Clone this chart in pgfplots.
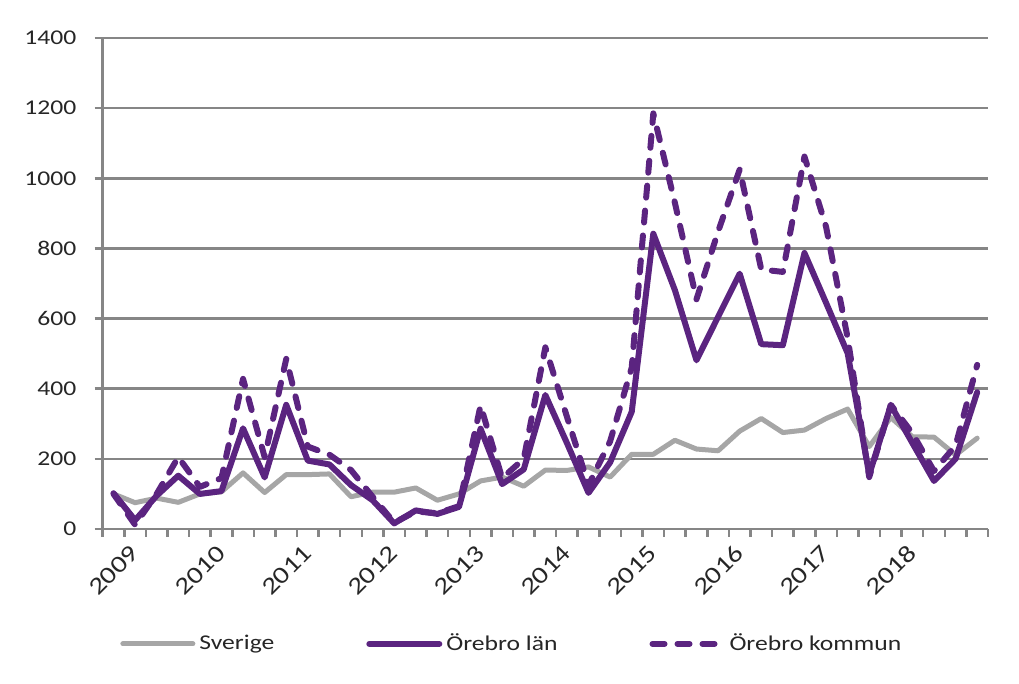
\documentclass[border=0pt]{standalone}
\usepackage{fontspec}
\setmainfont{Carlito}[FakeStretch=1.22]
\usepackage{pgfplots}
\usepackage{pgfplotstable}
\pgfplotsset{compat=1.18}
\definecolor{lila}{RGB}{91,36,128}
\definecolor{grline}{RGB}{166,166,166}
\definecolor{gridc}{RGB}{134,134,134}
\definecolor{txt}{RGB}{38,38,38}

\pgfplotstableread{
x S L K
0 100 102 100
1 75 25 12
2 88 95 100
3 76 152 205
4 100 100 120
5 106 108 145
6 160 287 428
7 104 147 205
8 155 354 485
9 155 195 235
10 157 184 212
11 92 125 168
12 105 82 92
13 105 16 18
14 117 53 50
15 82 43 45
16 100 63 65
17 137 286 352
18 148 128 145
19 122 170 200
20 168 382 518
21 167 245 320
22 177 103 125
23 148 190 250
24 213 334 460
25 213 842 1185
26 253 681 930
27 228 481 655
28 223 605 848
29 279 728 1025
30 315 527 740
31 275 524 733
32 282 787 1062
33 315 645 862
34 342 501 545
35 235 155 148
36 318 353 354
37 263 245 273
38 262 137 165
39 211 200 238
40 259 390 468
}\data

\begin{document}
\begin{tikzpicture}
\begin{axis}[
  scale only axis,
  width=442.65pt, height=245.5pt,
  xmin=-0.5, xmax=40.5, ymin=0, ymax=1400,
  clip=false,
  axis x line*=bottom, axis y line*=left,
  x axis line style={-}, y axis line style={-},
  axis line style={gridc, line width=1.25pt},
  ytick={0,200,...,1400},
  xtick={-0.5,0.5,...,40.5}, xticklabels={},
  extra x ticks={1,5,9,13,17,21,25,29,33,37},
  extra x tick labels={2009,2010,2011,2012,2013,2014,2015,2016,2017,2018},
  extra x tick style={major tick length=0pt, grid=none},
  tick align=outside, major tick length=4pt,
  tick style={gridc, line width=1.25pt},
  ymajorgrids, grid style={gridc, line width=1.25pt},
  /pgf/number format/assume math mode=true,
  /pgf/number format/1000 sep={},
  tick label style={font=\fontsize{10.5}{12}\selectfont, text=txt},
  xticklabel style={rotate=45, anchor=east, inner sep=0pt, font=\fontsize{12}{14}\selectfont},
  xticklabel shift=10pt,
  yticklabel style={anchor=east, inner sep=0pt, xshift=-9pt},
  legend style={at={(0.0195,-0.234)}, anchor=west, draw=none, fill=none,
    inner sep=0pt, font=\fontsize{10.5}{12}\selectfont, text=txt,
    legend columns=3,
    /tikz/every even column/.append style={column sep=44pt},
    /tikz/every odd column/.append style={column sep=0pt}},
  legend image code/.code={\draw[#1] (0pt,0pt) -- (35pt,0pt);},
  every axis plot/.append style={line join=round, line cap=round},
]
\addplot[grline, line width=2.5pt] table[x=x, y=S] {\data};
\addlegendentry{Sverige}
\addplot[lila, line width=3pt] table[x=x, y=L] {\data};
\addlegendentry{Örebro län}
\addplot[lila, line width=3pt, dash pattern=on 6pt off 6.5pt] table[x=x, y=K] {\data};
\addlegendentry{Örebro kommun}
\end{axis}
\pgfresetboundingbox
\useasboundingbox (-51.35pt,-77.5pt) rectangle (458.15pt,264.5pt);
\end{tikzpicture}
\end{document}
